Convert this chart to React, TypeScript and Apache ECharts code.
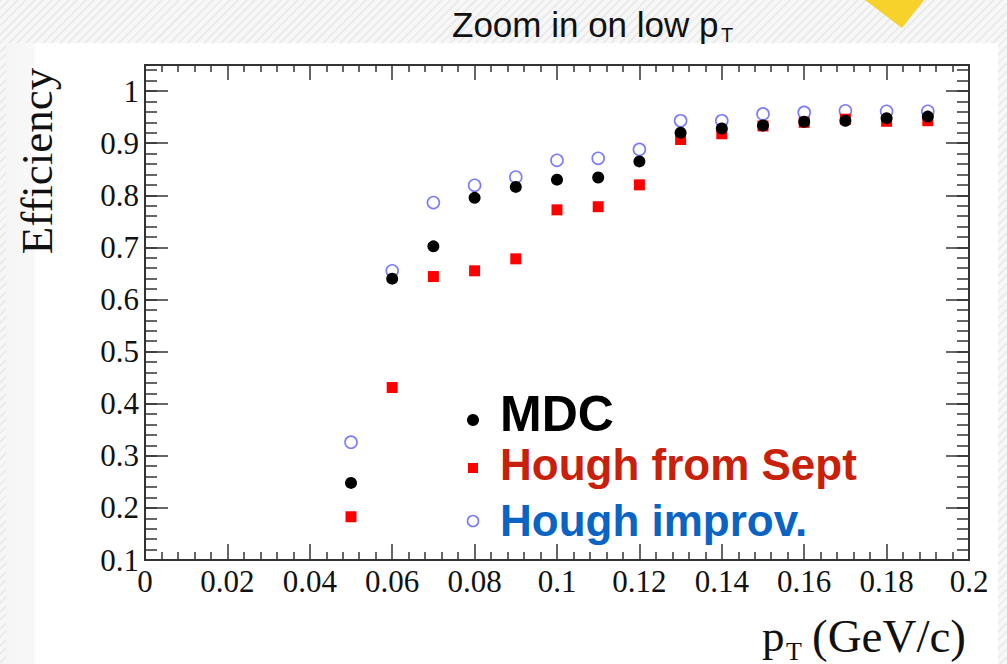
import React, { useEffect, useRef } from "react";
import * as echarts from "echarts";

const pt = [0.05, 0.06, 0.07, 0.08, 0.09, 0.1, 0.11, 0.12, 0.13, 0.14, 0.15, 0.16, 0.17, 0.18, 0.19];
const mdc = [0.248, 0.64, 0.702, 0.795, 0.816, 0.83, 0.834, 0.865, 0.92, 0.928, 0.934, 0.941, 0.943, 0.948, 0.951];
const houghSept = [0.183, 0.431, 0.644, 0.655, 0.678, 0.772, 0.778, 0.82, 0.907, 0.918, 0.933, 0.94, 0.946, 0.942, 0.943];
const houghImprov = [0.326, 0.655, 0.786, 0.819, 0.835, 0.867, 0.871, 0.888, 0.943, 0.943, 0.956, 0.959, 0.962, 0.961, 0.961];

const seriesNames = ["MDC", "Hough from Sept", "Hough improv."];
const titleText = "Zoom in on low p";
const titleSub = "T";
const yTitle = "Efficiency";
const xTitleMain = "p";
const xTitleSub = "T";
const xTitleUnit = "(GeV/c)";

const AXIS_COLOR = "#333";
const SERIF = "'Liberation Serif', 'Times New Roman', serif";
const SANS = "'Liberation Sans', Arial, Helvetica, sans-serif";

function zip(xs: number[], ys: number[]) {
  return xs.map((x, i) => [x, ys[i]]);
}

export default function App() {
  const ref = useRef<HTMLDivElement>(null);

  useEffect(() => {
    if (!ref.current) return;
    const chart = echarts.init(ref.current, undefined, { renderer: "svg" });

    const yCommon = {
      type: "value",
      min: 0.1,
      max: 1.05,
      splitLine: { show: false },
      axisLine: { show: true, lineStyle: { color: AXIS_COLOR, width: 2 } },
    };
    const xCommon = {
      type: "value",
      min: 0,
      max: 0.2,
      interval: 0.02,
      splitLine: { show: false },
      axisLine: { show: true, onZero: false, lineStyle: { color: AXIS_COLOR, width: 2 } },
      axisTick: { show: true, inside: true, length: 16, lineStyle: { color: AXIS_COLOR, width: 1.5 } },
      minorTick: { show: true, splitNumber: 5, length: 8, lineStyle: { color: AXIS_COLOR, width: 1.5 } },
    };

    const option: any = {
      animation: false,
      backgroundColor: "transparent",
      grid: {
        left: 145,
        right: 38,
        top: 65,
        bottom: 104,
        containLabel: false,
        outerBoundsMode: "none",
      },
      xAxis: [
        {
          ...xCommon,
          position: "bottom",
          axisLabel: {
            show: true,
            margin: 6,
            fontFamily: SERIF,
            fontSize: 31,
            color: "#111",
            formatter: (v: number) => String(Math.round(v * 1000) / 1000),
          },
        },
        {
          ...xCommon,
          position: "top",
          axisTick: { ...xCommon.axisTick, length: 15 },
          minorTick: { ...xCommon.minorTick, length: 7 },
          axisLabel: { show: false },
        },
      ],
      yAxis: [
        {
          ...yCommon,
          position: "left",
          interval: 0.1,
          axisTick: { show: true, inside: true, length: 23, lineStyle: { color: AXIS_COLOR, width: 1.5 } },
          axisLabel: {
            show: true,
            margin: 6,
            fontFamily: SERIF,
            fontSize: 31,
            color: "#111",
            formatter: (v: number) => (v > 1.0001 ? "" : String(Math.round(v * 100) / 100)),
          },
        },
        {
          ...yCommon,
          position: "left",
          interval: 0.02,
          axisTick: { show: true, inside: true, length: 12, lineStyle: { color: AXIS_COLOR, width: 1.5 } },
          axisLabel: { show: false },
        },
        {
          ...yCommon,
          position: "right",
          interval: 0.1,
          axisTick: { show: true, inside: true, length: 23, lineStyle: { color: AXIS_COLOR, width: 1.5 } },
          axisLabel: { show: false },
        },
        {
          ...yCommon,
          position: "right",
          interval: 0.02,
          axisTick: { show: true, inside: true, length: 12, lineStyle: { color: AXIS_COLOR, width: 1.5 } },
          axisLabel: { show: false },
        },
      ],
      series: [
        {
          name: seriesNames[2],
          type: "scatter",
          xAxisIndex: 0,
          yAxisIndex: 0,
          symbol: "circle",
          symbolSize: 12,
          itemStyle: { color: "rgba(255,255,255,0)", borderColor: "#7a7aff", borderWidth: 1.6, opacity: 1 },
          data: zip(pt, houghImprov),
          z: 3,
        },
        {
          name: seriesNames[1],
          type: "scatter",
          xAxisIndex: 0,
          yAxisIndex: 0,
          symbol: "rect",
          symbolSize: 11,
          itemStyle: { color: "#ff0000", opacity: 1 },
          data: zip(pt, houghSept),
          z: 4,
        },
        {
          name: seriesNames[0],
          type: "scatter",
          xAxisIndex: 0,
          yAxisIndex: 0,
          symbol: "circle",
          symbolSize: 12,
          itemStyle: { color: "#000000", opacity: 1 },
          data: zip(pt, mdc),
          z: 5,
        },
      ],
      graphic: [
        {
          type: "polygon",
          shape: { points: [[865, 0], [924, 0], [902, 28]] },
          style: { fill: "#f6d22b" },
          silent: true,
        },
        {
          type: "text",
          x: 452,
          y: 24,
          style: { text: titleText, font: `35px ${SANS}`, fill: "#111", align: "left", verticalAlign: "middle" },
        },
        {
          type: "text",
          x: 721,
          y: 35,
          style: { text: titleSub, font: `20px ${SANS}`, fill: "#111", align: "left", verticalAlign: "middle" },
        },
        {
          type: "text",
          x: 37,
          y: 161,
          rotation: Math.PI / 2,
          style: { text: yTitle, font: `45px ${SERIF}`, fill: "#111", align: "center", verticalAlign: "middle" },
        },
        {
          type: "text",
          x: 762,
          y: 636,
          style: { text: xTitleMain, font: `45px ${SERIF}`, fill: "#111", align: "left", verticalAlign: "middle" },
        },
        {
          type: "text",
          x: 786,
          y: 651,
          style: { text: xTitleSub, font: `26px ${SERIF}`, fill: "#111", align: "left", verticalAlign: "middle" },
        },
        {
          type: "text",
          x: 966,
          y: 636,
          style: { text: xTitleUnit, font: `47px ${SERIF}`, fill: "#111", align: "right", verticalAlign: "middle" },
        },
        // legend
        { type: "circle", shape: { cx: 473, cy: 420, r: 6 }, style: { fill: "#000" } },
        { type: "rect", shape: { x: 468, y: 463, width: 10, height: 10 }, style: { fill: "#ff0000" } },
        { type: "circle", shape: { cx: 473, cy: 521, r: 5.5 }, style: { fill: "none", stroke: "#7a7aff", lineWidth: 1.6 } },
        {
          type: "text",
          x: 500,
          y: 414,
          style: { text: seriesNames[0], font: `bold 50px ${SANS}`, fill: "#000", align: "left", verticalAlign: "middle" },
        },
        {
          type: "text",
          x: 500,
          y: 464,
          style: { text: seriesNames[1], font: `bold 44px ${SANS}`, fill: "#c8200a", align: "left", verticalAlign: "middle" },
        },
        {
          type: "text",
          x: 500,
          y: 520,
          style: { text: seriesNames[2], font: `bold 44px ${SANS}`, fill: "#0a64c4", align: "left", verticalAlign: "middle" },
        },
      ],
    };

    chart.setOption(option);
    return () => chart.dispose();
  }, []);

  return (
    <div
      style={{
        position: "absolute",
        left: 0,
        top: 0,
        width: 1007,
        height: 664,
        overflow: "hidden",
        background: "repeating-linear-gradient(-45deg, #f7f7f7 0px, #f7f7f7 4px, #ebebeb 4px, #ebebeb 6px)",
      }}
    >
      <div
        style={{
          position: "absolute",
          left: 6,
          top: 43,
          width: 992,
          height: 621,
          background: "linear-gradient(to right, #f5f5f5 0px, #f8f8f8 28px, #ffffff 30px, #ffffff 100%)",
        }}
      />
      <div ref={ref} style={{ position: "absolute", left: 0, top: 0, width: 1007, height: 664 }} />
    </div>
  );
}
